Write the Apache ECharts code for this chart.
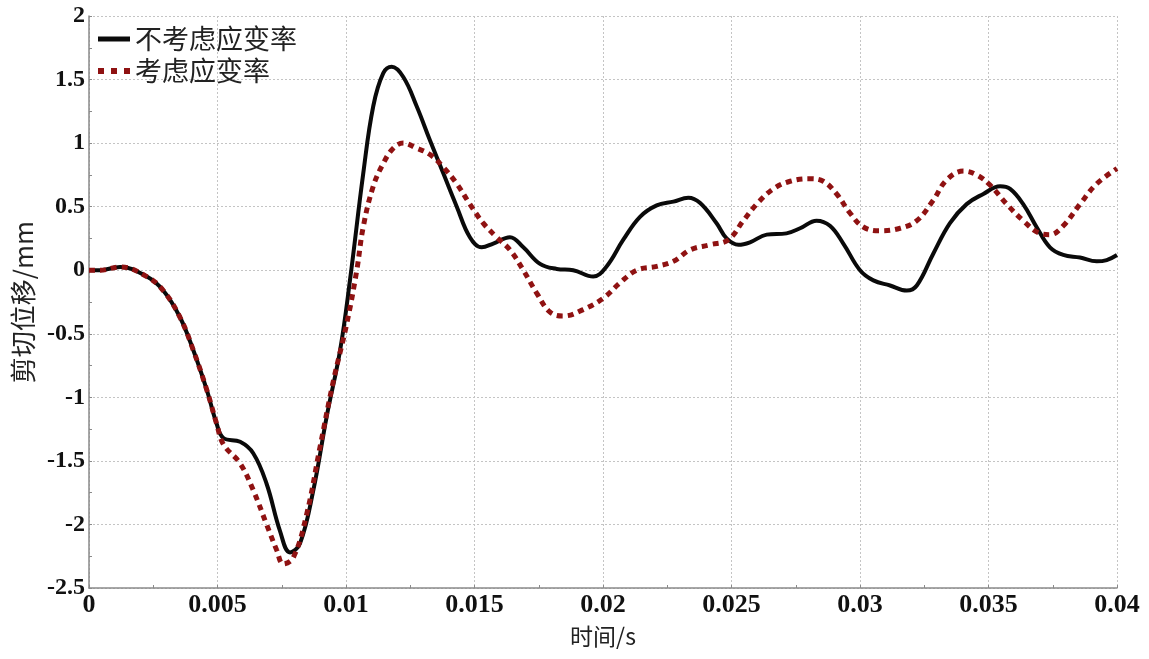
<!DOCTYPE html>
<html>
<head>
<meta charset="utf-8">
<title>剪切位移时程</title>
<script src="https://cdn.jsdelivr.net/npm/echarts@6/dist/echarts.min.js"></script>
<style>
  html, body { margin: 0; padding: 0; background: #fff; }
  #chart { width: 1149px; height: 659px; }
</style>
</head>
<body>
<div id="chart"></div>
<script>
// Shear displacement time history (time in s, displacement in mm)
const seriesNames = ['不考虑应变率', '考虑应变率'];

const timeNoRate = [
  0, 0.00043, 0.00121, 0.00225, 0.00289, 0.00354, 0.00406, 0.00458, 0.00497,
  0.00523, 0.00588, 0.00639, 0.00691, 0.00743, 0.00782, 0.00821, 0.00873,
  0.00925, 0.00977, 0.01016, 0.01067, 0.01106, 0.01145, 0.01178, 0.01223,
  0.01275, 0.01327, 0.01379, 0.01431, 0.01482, 0.01528, 0.01573, 0.01638,
  0.01690, 0.01755, 0.01820, 0.01884, 0.01962, 0.02014, 0.02079, 0.02144,
  0.02209, 0.02274, 0.02332, 0.02377, 0.02442, 0.02481, 0.02527, 0.02572,
  0.02637, 0.02714, 0.02767, 0.02831, 0.02883, 0.02935, 0.03000, 0.03052,
  0.03117, 0.03182, 0.03221, 0.03285, 0.03350, 0.03415, 0.03480, 0.03545,
  0.03584, 0.03635, 0.03687, 0.03739, 0.03791, 0.03856, 0.03921, 0.03960, 0.04
];
const dispNoRate = [
  0, 0, 0.026, -0.05, -0.16, -0.37, -0.63, -0.94, -1.21,
  -1.32, -1.35, -1.44, -1.68, -2.05, -2.22, -2.15, -1.73,
  -1.15, -0.63, -0.07, 0.76, 1.29, 1.55, 1.60, 1.52,
  1.29, 1.02, 0.76, 0.50, 0.26, 0.18, 0.21, 0.26,
  0.18, 0.05, 0.01, 0.00, -0.05, 0.03, 0.24, 0.42,
  0.51, 0.54, 0.57, 0.53, 0.37, 0.25, 0.20, 0.22,
  0.28, 0.29, 0.33, 0.39, 0.35, 0.21, 0.00, -0.08,
  -0.12, -0.16, -0.12, 0.13, 0.37, 0.52, 0.60, 0.66,
  0.64, 0.52, 0.34, 0.18, 0.12, 0.10, 0.07, 0.08, 0.12
];

const timeRate = [
  0, 0.00043, 0.00121, 0.00225, 0.00289, 0.00354, 0.00406, 0.00458, 0.00497,
  0.00523, 0.00588, 0.00639, 0.00691, 0.00730, 0.00756, 0.00795, 0.00847,
  0.00899, 0.00951, 0.01003, 0.01042, 0.01067, 0.01106, 0.01145, 0.01184,
  0.01223, 0.01275, 0.01327, 0.01379, 0.01431, 0.01482, 0.01534, 0.01586,
  0.01638, 0.01690, 0.01742, 0.01794, 0.01846, 0.01923, 0.02001, 0.02066,
  0.02131, 0.02209, 0.02274, 0.02339, 0.02416, 0.02488, 0.02546, 0.02598,
  0.02663, 0.02728, 0.02805, 0.02857, 0.02909, 0.02961, 0.03013, 0.03078,
  0.03156, 0.03221, 0.03285, 0.03337, 0.03402, 0.03454, 0.03506, 0.03571,
  0.03635, 0.03700, 0.03739, 0.03791, 0.03856, 0.03921, 0.04
];
const dispRate = [
  0, 0, 0.026, -0.05, -0.16, -0.37, -0.63, -0.94, -1.21,
  -1.37, -1.52, -1.73, -2.00, -2.20, -2.31, -2.26, -1.92,
  -1.39, -0.87, -0.42, 0.00, 0.34, 0.66, 0.84, 0.96,
  1.00, 0.96, 0.91, 0.81, 0.68, 0.52, 0.37, 0.26,
  0.16, 0.00, -0.18, -0.33, -0.36, -0.31, -0.22, -0.10,
  0.00, 0.03, 0.07, 0.16, 0.20, 0.24, 0.39, 0.52,
  0.64, 0.70, 0.72, 0.70, 0.60, 0.45, 0.34, 0.31,
  0.33, 0.39, 0.55, 0.71, 0.78, 0.75, 0.67, 0.52,
  0.39, 0.29, 0.28, 0.35, 0.52, 0.68, 0.80
];

const zip = (xs, ys) => xs.map((x, i) => [x, ys[i]]);

const labelFont = '"Liberation Serif", "Times New Roman", serif';
const cjkFont = '"Noto Sans CJK SC", "Liberation Serif", sans-serif';
const gridLine = { show: true, lineStyle: { color: '#c4c4c4', width: 1, type: [2, 2] } };
const axisLine = { show: true, onZero: false, lineStyle: { color: '#8a8a8a', width: 1.5 } };
const tickStyle = { color: '#8a8a8a' };

const chart = echarts.init(document.getElementById('chart'), null, { renderer: 'canvas' });
chart.setOption({
  backgroundColor: '#ffffff',
  animation: false,
  grid: { left: 89, right: 32, top: 16, bottom: 71, containLabel: false },
  legend: {
    orient: 'vertical',
    left: 90,
    top: 19,
    itemWidth: 32,
    itemHeight: 14,
    itemGap: 2,
    // line-only legend keys (no marker dot)
    itemStyle: { color: 'rgba(0,0,0,0)', opacity: 0, borderWidth: 0 },
    textStyle: { fontFamily: cjkFont, fontSize: 27, color: '#222', lineHeight: 30 },
    data: [
      { name: seriesNames[0], lineStyle: { width: 5, type: 'solid' } },
      { name: seriesNames[1], lineStyle: { width: 6, type: [6, 7], cap: 'butt' } }
    ]
  },
  xAxis: {
    type: 'value',
    min: 0,
    max: 0.04,
    interval: 0.005,
    name: '时间/s',
    nameLocation: 'middle',
    nameGap: 37,
    nameTextStyle: { fontFamily: cjkFont, fontSize: 23, color: '#222' },
    axisLine: axisLine,
    axisTick: { show: true, inside: true, length: 3, lineStyle: tickStyle },
    minorTick: { show: true, splitNumber: 2, length: 3, lineStyle: tickStyle },
    axisLabel: { fontFamily: labelFont, fontWeight: 'bold', fontSize: 26, color: '#111', margin: 4 },
    splitLine: gridLine
  },
  yAxis: {
    type: 'value',
    min: -2.5,
    max: 2,
    interval: 0.5,
    name: '剪切位移/mm',
    nameLocation: 'middle',
    nameGap: 53,
    nameTextStyle: { fontFamily: cjkFont, fontSize: 26, color: '#222' },
    axisLine: axisLine,
    axisTick: { show: true, inside: true, length: 3, lineStyle: tickStyle },
    minorTick: { show: true, splitNumber: 2, length: 3, lineStyle: tickStyle },
    axisLabel: { fontFamily: labelFont, fontWeight: 'bold', fontSize: 24, color: '#111', margin: 4 },
    splitLine: gridLine
  },
  series: [
    {
      name: seriesNames[0],
      type: 'line',
      data: zip(timeNoRate, dispNoRate),
      smooth: 0.4,
      symbol: 'none',
      lineStyle: { color: '#0a0a0a', width: 4 },
      itemStyle: { color: '#0a0a0a' }
    },
    {
      name: seriesNames[1],
      type: 'line',
      data: zip(timeRate, dispRate),
      smooth: 0.4,
      symbol: 'none',
      lineStyle: { color: '#8f1212', width: 5, type: [6, 5], cap: 'butt' },
      itemStyle: { color: '#8f1212' }
    }
  ]
});
</script>
</body>
</html>
